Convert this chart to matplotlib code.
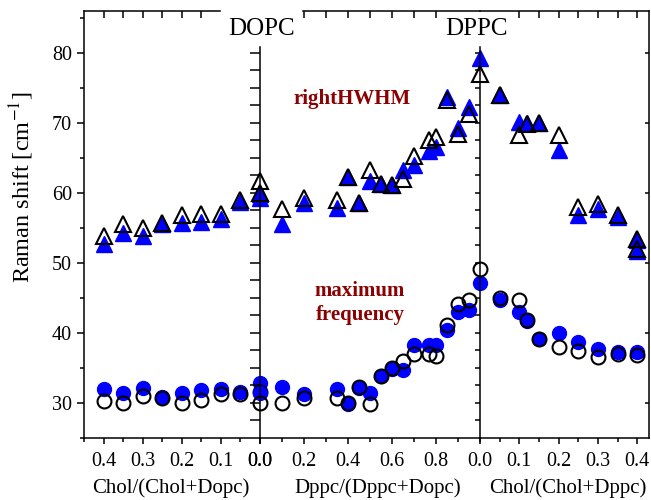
import matplotlib
matplotlib.use("Agg")
import matplotlib.pyplot as plt

plt.rcParams['font.family'] = ['Liberation Serif', 'DejaVu Serif']
plt.rcParams['mathtext.fontset'] = 'stix'

# left panel: Chol/(Chol+Dopc)
x_dopc = [0.4, 0.35, 0.3, 0.25, 0.2, 0.15, 0.1, 0.05, 0.0]
hw_open_dopc = [53.8, 55.5, 54.9, 55.6, 56.8, 57.0, 57.0, 58.9, 61.7]
hw_fill_dopc = [52.7, 54.3, 53.8, 55.5, 55.7, 55.8, 56.3, 58.7, 59.2]
mf_open_dopc = [30.3, 30.0, 31.0, 30.7, 29.9, 30.4, 31.3, 31.2, 31.5]
mf_fill_dopc = [31.9, 31.4, 32.1, 30.8, 31.4, 31.8, 32.0, 31.5, 32.8]

# middle panel: Dppc/(Dppc+Dopc)
x_mix = [0.0, 0.1, 0.2, 0.35, 0.4, 0.45, 0.5, 0.55, 0.6, 0.65, 0.7, 0.77, 0.8, 0.85, 0.9, 0.95]
hw_open_mix = [59.9, 57.7, 59.3, 59.0, 62.2, 58.6, 63.3, 61.3, 61.1, 62.0, 65.3, 67.5, 68.0, 73.2, 68.4, 71.3]
hw_fill_mix = [59.8, 55.5, 58.6, 57.8, 62.2, 58.6, 61.7, 61.3, 61.1, 63.2, 63.9, 66.0, 66.5, 73.7, 69.3, 72.3]
mf_open_mix = [30.0, 29.9, 30.6, 30.7, 29.9, 32.3, 29.8, 33.8, 35.0, 36.0, 36.9, 37.0, 36.6, 41.1, 44.1, 44.7]
mf_fill_mix = [31.4, 32.2, 31.2, 32.0, 29.8, 32.1, 31.4, 33.8, 34.8, 34.6, 38.3, 38.3, 38.2, 40.4, 43.0, 43.3]

# right panel: Chol/(Chol+Dppc)
x_dppc_hw = [0.0, 0.05, 0.1, 0.12, 0.15, 0.2, 0.25, 0.3, 0.35, 0.4, 0.4]
hw_open_dppc = [77.0, 73.9, 68.2, 69.8, 69.9, 68.3, 57.9, 58.4, 56.8, 53.4, 52.0]
hw_fill_dppc = [79.2, 73.9, 70.1, 70.0, 69.9, 66.1, 56.8, 57.7, 56.6, 53.2, 51.7]
x_dppc_mf = [0.0, 0.05, 0.1, 0.12, 0.15, 0.2, 0.25, 0.3, 0.35, 0.4]
mf_open_dppc = [49.1, 45.0, 44.6, 41.8, 39.1, 37.9, 37.4, 36.5, 36.9, 36.8]
mf_fill_dppc = [47.1, 44.6, 42.9, 41.7, 39.1, 40.0, 38.7, 37.6, 37.3, 37.3]

W, H = 651, 500
fig = plt.figure(figsize=(W / 100, H / 100), dpi=100)
b = 62.3 / H
h = 427 / H
ax1 = fig.add_axes([84 / W, b, 176 / W, h])
ax2 = fig.add_axes([260 / W, b, 220 / W, h])
ax3 = fig.add_axes([480 / W, b, 169 / W, h])

blue = '#0000ff'
tri = dict(marker='^', ms=11, ls='none', clip_on=False)
circ = dict(marker='o', ms=10, ls='none', clip_on=False)


def draw(ax, xh, hf, ho, xm, mf, mo):
    ax.plot(xh, hf, color=blue, mec=blue, **tri)
    ax.plot(xm, mf, color=blue, mec=blue, **circ)
    ax.plot(xh, ho, mfc='none', mec='black', mew=1.5, **tri)
    ax.plot(xm, mo, mfc='none', mec='black', mew=1.5, **circ)


draw(ax1, x_dopc, hw_fill_dopc, hw_open_dopc, x_dopc, mf_fill_dopc, mf_open_dopc)
draw(ax2, x_mix, hw_fill_mix, hw_open_mix, x_mix, mf_fill_mix, mf_open_mix)
draw(ax3, x_dppc_hw, hw_fill_dppc, hw_open_dppc, x_dppc_mf, mf_fill_dppc, mf_open_dppc)

ax1.set_xlim(0.45, 0.0)
ax2.set_xlim(0.0, 1.0)
ax3.set_xlim(0.0, 0.43)

lw = 1.1
for ax in (ax1, ax2, ax3):
    ax.set_ylim(25, 86)
    ax.set_facecolor('none')
    for s in ax.spines.values():
        s.set_linewidth(lw)
    ax.tick_params(axis='x', which='both', direction='out', top=False,
                   width=lw, labelsize=14.5, pad=6)
    ax.tick_params(axis='x', which='major', length=4)
    ax.tick_params(axis='x', which='minor', length=3)

# x ticks
ax1.set_xticks([0.4, 0.3, 0.2, 0.1, 0.0], ['0.4', '0.3', '0.2', '0.1', '0.0'])
ax1.set_xticks([0.45, 0.35, 0.25, 0.15, 0.05], minor=True)
ax2.set_xticks([0.0, 0.2, 0.4, 0.6, 0.8], ['0.0', '0.2', '0.4', '0.6', '0.8'])
ax2.set_xticks([0.1, 0.3, 0.5, 0.7, 0.9, 1.0], minor=True)
ax3.set_xticks([0.0, 0.1, 0.2, 0.3, 0.4], ['0.0', '0.1', '0.2', '0.3', '0.4'])
ax3.set_xticks([0.05, 0.15, 0.25, 0.35], minor=True)

# top ticks (inward) and broken top frame
top_ticks = [
    (ax1, [0.4, 0.35, 0.3, 0.25, 0.2, 0.15]),
    (ax2, [0.2, 0.3, 0.4, 0.5, 0.6, 0.7, 0.8]),
    (ax3, [0.1, 0.15, 0.2, 0.25, 0.3, 0.35, 0.4]),
]
for ax, ticks in top_ticks:
    sec = ax.secondary_xaxis('top')
    sec.set_xticks(ticks)
    sec.tick_params(direction='in', length=5, width=lw, labeltop=False)
    for s in sec.spines.values():
        s.set_visible(False)
ax1.spines['top'].set_bounds(0.102, 0.45)
ax2.spines['top'].set_bounds(0.195, 1.0)

# y axis of left panel
ax1.spines['right'].set_visible(False)
ax1.set_yticks([30, 40, 50, 60, 70, 80])
ax1.set_yticks([25, 35, 45, 55, 65, 75, 85], minor=True)
ax1.tick_params(axis='y', which='both', direction='out', right=False,
                width=lw, labelsize=14.5)
ax1.tick_params(axis='y', which='major', length=5)
ax1.tick_params(axis='y', which='minor', length=3)

# internal dividers
inner_ticks = [27.5 + 2.5 * i for i in range(22)]
ax2.spines['right'].set_visible(False)
ax2.spines['left'].set_bounds(25, 80.8)
ax2.set_yticks(inner_ticks)
ax2.tick_params(axis='y', direction='out', length=7, width=lw,
                labelleft=False, right=False)
ax3.spines['left'].set_bounds(25, 80.8)
ax3.set_yticks(inner_ticks)
ax3.tick_params(axis='y', direction='out', length=3.6, width=lw,
                labelleft=False, right=False)
sec_r = ax3.secondary_yaxis('right')
sec_r.set_yticks([30, 40, 50, 60, 70, 80])
sec_r.tick_params(direction='in', length=3, width=lw, labelright=False)
for s in sec_r.spines.values():
    s.set_visible(False)

# labels
fig.text(22 / W, 1 - 187 / H, r'Raman shift [cm$^{-1}$]', rotation=90,
         ha='center', va='center', fontsize=17.5)
fig.text(171 / W, 1 - 488 / H, 'Chol/(Chol+Dopc)', ha='center', va='center', fontsize=15)
fig.text(378 / W, 1 - 488 / H, 'Dppc/(Dppc+Dopc)', ha='center', va='center', fontsize=15)
fig.text(568 / W, 1 - 488 / H, 'Chol/(Chol+Dppc)', ha='center', va='center', fontsize=15)
fig.text(262 / W, 1 - 29 / H, 'DOPC', ha='center', va='center', fontsize=18)
fig.text(476 / W, 1 - 29 / H, 'DPPC', ha='center', va='center', fontsize=18)

dark_red = '#8b0000'
fig.text(352 / W, 1 - 99 / H, 'rightHWHM', ha='center', va='center',
         fontsize=15, fontweight='bold', color=dark_red)
fig.text(360 / W, 1 - 303 / H, 'maximum\nfrequency', ha='center', va='center',
         fontsize=15, fontweight='bold', color=dark_red, linespacing=1.3)

fig.savefig('out.png', dpi=100)
